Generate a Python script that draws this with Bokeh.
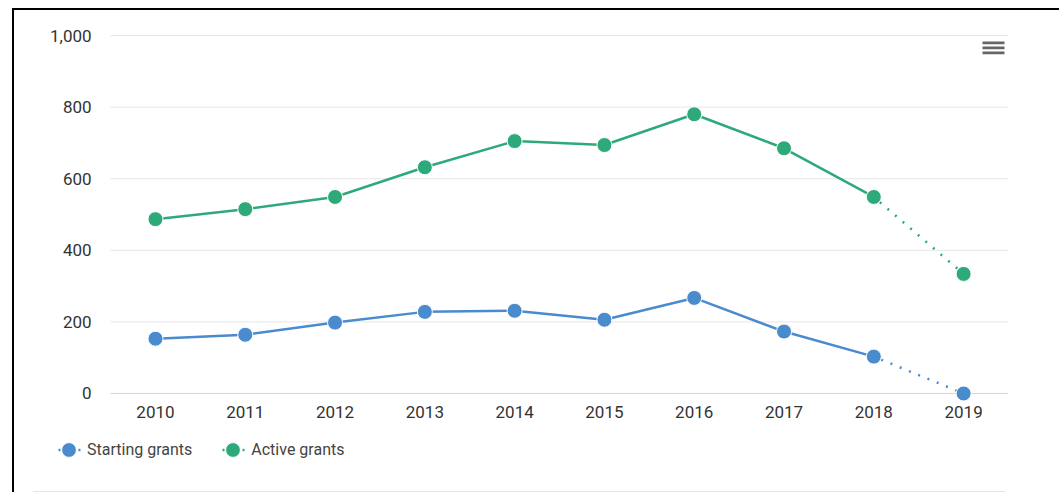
from bokeh.plotting import figure
from bokeh.models import (Range1d, NumeralTickFormatter, FixedTicker, BasicTickFormatter,
                          Legend, LegendItem, BoxAnnotation, Div)
from bokeh.layouts import column
from bokeh.embed import file_html
from bokeh.resources import INLINE

# ---- data ----
years = [2010, 2011, 2012, 2013, 2014, 2015, 2016, 2017, 2018, 2019]
starting_grants = [153, 164, 198, 228, 231, 206, 267, 173, 103, 0]
active_grants = [487, 515, 549, 632, 705, 694, 780, 685, 549, 334]
y_ticks = [0, 200, 400, 600, 800, 1000]
series_names = ["Starting grants", "Active grants"]
series_colors = ["#4a8bcd", "#2ea97a"]

FONT = "Roboto"
W, H = 1045, 480

p = figure(
    x_range=Range1d(2008.43, 2019.5),
    y_range=Range1d(-271, 1019.6),
    width=W, height=H,
    min_border_left=0, min_border_right=51, min_border_top=18, min_border_bottom=0,
    output_backend="svg", toolbar_location=None,
)
p.outline_line_color = None
p.background_fill_color = "white"
p.border_fill_color = "white"
p.grid.visible = False

# plot area edges (half a category beyond first/last year)
x_lo = years[0] - 0.5
x_hi = years[-1] + 0.5

# horizontal grid lines and the x-axis base line
grid_vals = [t for t in y_ticks if t != 0]
p.segment(x0=[x_lo] * len(grid_vals), x1=[x_hi] * len(grid_vals), y0=grid_vals, y1=grid_vals,
          line_color="#e6e6e6", line_width=1, level="underlay")
p.segment(x0=[x_lo], x1=[x_hi], y0=[0], y1=[0], line_color="#ccd6eb", line_width=1,
          level="underlay")

p.yaxis.ticker = FixedTicker(ticks=y_ticks)
p.yaxis.formatter = NumeralTickFormatter(format="0,0")
p.yaxis.fixed_location = x_lo
p.xaxis.ticker = FixedTicker(ticks=years)
p.xaxis.formatter = BasicTickFormatter(use_scientific=False)
p.xaxis.fixed_location = 0
for ax in (p.xaxis[0], p.yaxis[0]):
    ax.axis_line_color = None
    ax.major_tick_line_color = None
    ax.minor_tick_line_color = None
    ax.major_tick_out = 0
    ax.major_tick_in = 0
    ax.major_label_text_font = FONT
    ax.major_label_text_font_size = "17px"
    ax.major_label_text_color = "#333333"
p.yaxis.major_label_standoff = 19
p.xaxis.major_label_standoff = 13

n_solid = len(years) - 1
items = []
for name, vals, col in zip(series_names, [starting_grants, active_grants], series_colors):
    p.line(years[:n_solid], vals[:n_solid], line_color=col, line_width=2.5)
    dotted = p.line(years[n_solid - 1:], vals[n_solid - 1:], line_color=col, line_width=2.5,
                    line_dash="2 8", line_dash_offset=2)
    sc = p.scatter(years, vals, size=15, fill_color=col, line_color="white", line_width=1)
    items.append(LegendItem(label=name, renderers=[dotted, sc]))

legend = Legend(
    items=items, orientation="horizontal", location=(36, 22),
    padding=0, margin=0, spacing=22, glyph_width=37, glyph_height=37, label_standoff=0,
    label_text_font=FONT, label_text_font_size="16px", label_text_color="#444444",
    border_line_alpha=0, background_fill_alpha=0,
)
p.add_layout(legend)

# context-menu icon (three bars)
for top in (449, 444, 439):
    p.add_layout(BoxAnnotation(left=968, right=990, top=top, bottom=top - 2.7,
                               left_units="screen", right_units="screen",
                               top_units="screen", bottom_units="screen",
                               fill_color="#666666", fill_alpha=1, line_alpha=0))

sep = Div(text="", width=972, height=1, margin=(1, 0, 0, 19),
          styles={"border-top": "1px solid #e6e6e6"})

layout = column(p, sep, styles={"border-top": "2px solid black", "border-left": "2px solid black",
                                "margin-left": "12px", "margin-top": "8px"})

open("out.html", "w").write(file_html(layout, INLINE))
